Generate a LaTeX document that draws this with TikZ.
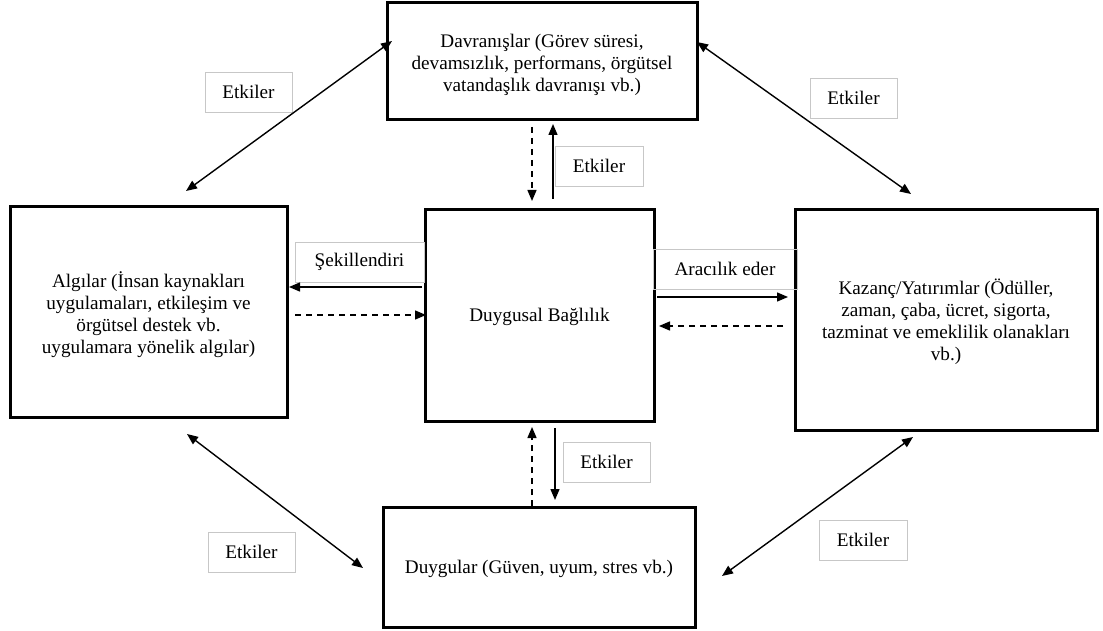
\documentclass[tikz,border=0pt]{standalone}
\usepackage{fontspec}
\setmainfont{Liberation Serif}
\usetikzlibrary{arrows.meta,calc}
% centred box text: width, height, extra space above, text
\newcommand\panelbody[4]{\parbox[c][#2][c]{#1}{\centering\vspace*{#3}#4}}
\begin{document}
\begin{tikzpicture}[x=1pt,y=-1pt,
  txt/.style={font=\fontsize{19.2}{22}\selectfont},
  box/.style={txt, draw, line width=3pt, inner sep=0pt, align=center},
  lbl/.style={txt, draw=black!22, line width=0.7pt, inner sep=0pt, minimum height=40pt},
  tip/.tip={Triangle[length=11pt,width=9pt]},
  con/.style={line width=1.4pt, -tip},
  dcon/.style={con, dash pattern=on 6pt off 5pt},
  both/.style={line width=1.4pt, tip-tip}]
\useasboundingbox (0,0) rectangle (1103,631);

% main boxes
\node[box] (beh) at (542,61)
  {\panelbody{310pt}{117pt}{7pt}{Davranışlar (Görev süresi,\\devamsızlık, performans, örgütsel\\vatandaşlık davranışı vb.)}};
\node[box] (per) at (148.5,312)
  {\panelbody{277pt}{211pt}{6pt}{Algılar (İnsan kaynakları\\uygulamaları, etkileşim ve\\örgütsel destek vb.\\uygulamara yönelik algılar)}};
\node[box] (aff) at (539.5,315.5)
  {\panelbody{229pt}{211pt}{3pt}{Duygusal Bağlılık}};
\node[box] (inv) at (946,320)
  {\panelbody{302pt}{220pt}{3pt}{Kazanç/Yatırımlar (Ödüller,\\zaman, çaba, ücret, sigorta,\\tazminat ve emeklilik olanakları\\vb.)}};
\node[box] (emo) at (539,567)
  {\panelbody{312pt}{120pt}{3pt}{Duygular (Güven, uyum, stres vb.)}};

% connector labels
\node[lbl, minimum width=87pt] (l1) at (248.5,92) {Etkiler};
\node[lbl, minimum width=87pt] (l2) at (853.5,98) {Etkiler};
\node[lbl, minimum width=88pt] (l3) at (599,166) {Etkiler};
\node[lbl, minimum width=129pt] (l4) at (359.5,262) {Şekillendiri};
\node[lbl, minimum width=144pt] (l5) at (725,269) {Aracılık eder};
\node[lbl, minimum width=87pt] (l6) at (606.5,462) {Etkiler};
\node[lbl, minimum width=87pt] (l7) at (251.5,552) {Etkiler};
\node[lbl, minimum width=88pt] (l8) at (863,540) {Etkiler};

% connector end points
\coordinate (d1a) at (186,191);  \coordinate (d1b) at (392,41);
\coordinate (d2a) at (697,42);   \coordinate (d2b) at (911,194);
\coordinate (d3a) at (187,434);  \coordinate (d3b) at (363,568);
\coordinate (d4a) at (722,576);  \coordinate (d4b) at (913,437);
\coordinate (v1a) at (532,127);  \coordinate (v1b) at (532,201);
\coordinate (v2a) at (553,199);  \coordinate (v2b) at (553,124);
\coordinate (v3a) at (532,506);  \coordinate (v3b) at (532,427);
\coordinate (v4a) at (555,428);  \coordinate (v4b) at (555,500);
\coordinate (h1a) at (422,287);  \coordinate (h1b) at (289,287);
\coordinate (h2a) at (295,315);  \coordinate (h2b) at (426,315);
\coordinate (h3a) at (657,297);  \coordinate (h3b) at (788,297);
\coordinate (h4a) at (783,326);  \coordinate (h4b) at (659,326);

% diagonal two-way links
\draw[both] (d1a) -- (d1b);
\draw[both] (d2a) -- (d2b);
\draw[both] (d3a) -- (d3b);
\draw[both] (d4a) -- (d4b);

% vertical links
\draw[dcon] (v1a) -- (v1b);
\draw[con]  (v2a) -- (v2b);
\draw[dcon] (v3a) -- (v3b);
\draw[con]  (v4a) -- (v4b);

% horizontal links
\draw[con]  (h1a) -- (h1b);
\draw[dcon] (h2a) -- (h2b);
\draw[con]  (h3a) -- (h3b);
\draw[dcon] (h4a) -- (h4b);
\end{tikzpicture}
\end{document}
